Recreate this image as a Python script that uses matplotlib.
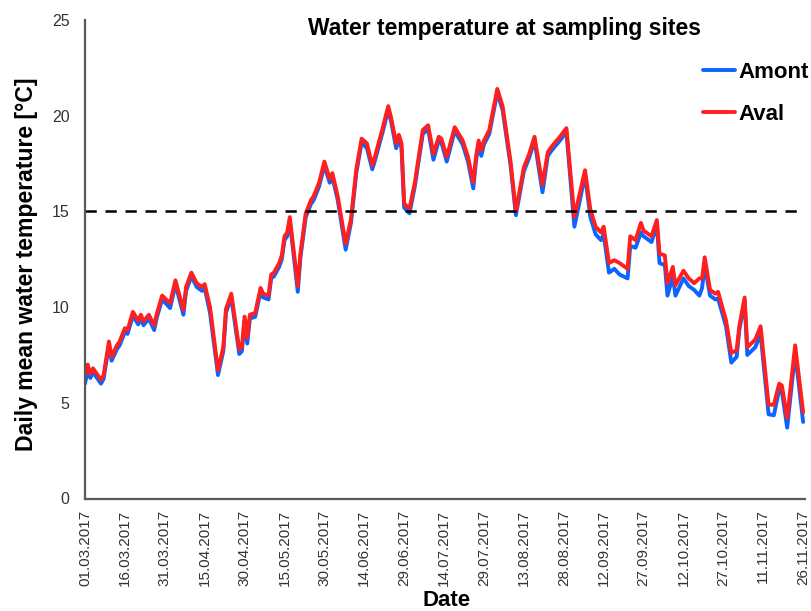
import matplotlib
matplotlib.use("Agg")
import matplotlib.pyplot as plt
import pandas as pd

plt.rcParams['font.family'] = ['Liberation Sans', 'DejaVu Sans']

start = pd.Timestamp("2017-03-01")

# day offsets from 01.03.2017 for the read-off points
days = [0, 1, 2, 3, 4, 6, 7, 9, 10, 12, 13, 15, 16, 18, 20, 21, 22, 24, 26, 27,
        29, 32, 34, 37, 38, 40, 42, 43, 44, 45, 47, 50, 52, 53, 55, 58, 59, 60, 61, 62,
        64, 66, 67, 69, 70, 71, 73, 74, 75, 76, 77, 80, 81, 83, 85, 86, 88, 90, 92, 93,
        95, 98, 100, 102, 104, 106, 108, 109, 112, 114, 115, 117, 118, 119, 120, 122, 124, 127, 129, 131,
        133, 134, 136, 139, 142, 144, 146, 147, 148, 149, 150, 152, 155, 157, 160, 162, 165, 167, 169, 172,
        174, 175, 177, 178, 181, 184, 188, 190, 192, 194, 195, 197, 199, 201, 204, 205, 207, 209, 210, 213,
        215, 216, 218, 219, 221, 222, 225, 227, 229, 231, 232, 233, 235, 237, 238, 241, 243, 245, 246, 248,
        249, 252, 254, 257, 259, 261, 262, 264, 267, 270]

aval = [6.5, 7.0, 6.5, 6.8, 6.6, 6.2, 6.45, 8.2, 7.4, 8.0, 8.2, 8.9, 8.8, 9.75, 9.3, 9.6, 9.25, 9.6, 9.05, 9.65,
        10.6, 10.2, 11.4, 9.85, 11.05, 11.8, 11.25, 11.15, 11.05, 11.2, 10.0, 6.7, 7.9, 9.9, 10.7, 7.8, 7.9, 9.5, 8.4, 9.6,
        9.7, 11.0, 10.7, 10.6, 11.7, 11.8, 12.3, 12.7, 13.7, 13.9, 14.7, 11.1, 12.8, 14.9, 15.6, 15.8, 16.5, 17.6, 16.7, 17.0,
        15.8, 13.3, 14.6, 17.2, 18.8, 18.55, 17.4, 17.85, 19.4, 20.5, 19.95, 18.55, 19.0, 18.55, 15.4, 15.15, 16.5, 19.25, 19.5, 18.0,
        18.9, 18.8, 17.85, 19.4, 18.7, 17.85, 16.5, 17.85, 18.7, 18.2, 18.7, 19.25, 21.4, 20.5, 17.6, 15.0, 17.3, 18.0, 18.9, 16.4,
        18.1, 18.3, 18.65, 18.8, 19.35, 14.7, 17.15, 15.1, 14.2, 13.9, 14.2, 12.3, 12.45, 12.3, 12.0, 13.7, 13.5, 14.4, 14.0, 13.7,
        14.55, 12.8, 12.7, 11.25, 12.1, 11.15, 11.9, 11.5, 11.25, 11.5, 11.5, 12.6, 10.9, 10.7, 10.8, 9.3, 7.6, 7.75, 9.0, 10.5,
        7.9, 8.3, 9.0, 4.9, 4.9, 6.0, 5.9, 4.2, 8.0, 4.5]

amont = [6.0, 6.7, 6.3, 6.6, 6.4, 6.0, 6.25, 8.0, 7.2, 7.8, 8.0, 8.7, 8.6, 9.55, 9.1, 9.4, 9.05, 9.4, 8.8, 9.45,
         10.4, 9.95, 11.2, 9.6, 10.85, 11.6, 11.05, 10.95, 10.85, 11.0, 9.7, 6.45, 7.7, 9.7, 10.5, 7.55, 7.7, 9.3, 8.1, 9.4,
         9.5, 10.8, 10.5, 10.4, 11.5, 11.6, 12.1, 12.5, 13.5, 13.7, 14.5, 10.8, 12.6, 14.7, 15.4, 15.6, 16.3, 17.4, 16.5, 16.8,
         15.6, 13.0, 14.4, 17.0, 18.6, 18.3, 17.2, 17.65, 19.2, 20.3, 19.75, 18.3, 18.8, 18.3, 15.2, 14.9, 16.3, 19.05, 19.3, 17.7,
         18.7, 18.6, 17.6, 19.2, 18.5, 17.6, 16.2, 17.65, 18.5, 17.9, 18.5, 19.05, 21.2, 20.3, 17.4, 14.8, 17.1, 17.8, 18.7, 16.0,
         17.9, 18.1, 18.45, 18.6, 19.15, 14.2, 16.9, 14.7, 13.8, 13.5, 13.8, 11.8, 12.0, 11.7, 11.5, 13.2, 13.1, 13.9, 13.7, 13.4,
         14.3, 12.3, 12.2, 10.6, 11.6, 10.6, 11.5, 11.1, 10.9, 10.6, 11.0, 12.2, 10.6, 10.4, 10.45, 9.0, 7.1, 7.4, 8.8, 10.3,
         7.5, 7.9, 8.6, 4.4, 4.35, 5.7, 5.6, 3.7, 7.6, 4.0]

tick_labels = ["01.03.2017", "16.03.2017", "31.03.2017", "15.04.2017", "30.04.2017", "15.05.2017",
               "30.05.2017", "14.06.2017", "29.06.2017", "14.07.2017", "29.07.2017", "13.08.2017",
               "28.08.2017", "12.09.2017", "27.09.2017", "12.10.2017", "27.10.2017", "11.11.2017",
               "26.11.2017"]
y_ticks = [0, 5, 10, 15, 20, 25]
threshold = 15

dates = start + pd.to_timedelta(days, unit="D")
tick_dates = pd.to_datetime(tick_labels, format="%d.%m.%Y")

fig = plt.figure(figsize=(8.12, 6.11), dpi=100)
ax = fig.add_axes([85/812, 1 - 498.5/611, (805-85)/812, (498.5-20)/611])

l1, = ax.plot(dates, amont, color="#0a64ff", lw=2.8, solid_joinstyle="round",
              solid_capstyle="round", label="Amont")
l2, = ax.plot(dates, aval, color="#ff1f1f", lw=2.8, solid_joinstyle="round",
              solid_capstyle="round", label="Aval")
ax.axhline(threshold, color="black", lw=1.8, ls=(0, (4.5, 3.5)))

ax.set_ylim(0, 25)
ax.set_yticks(y_ticks)
ax.set_xlim(start, start + pd.Timedelta(days=270.7))
ax.set_xticks(tick_dates)
ax.set_xticklabels(tick_labels, rotation=90)

for s in ["top", "right"]:
    ax.spines[s].set_visible(False)
for s in ["left", "bottom"]:
    ax.spines[s].set_color("#595959")
    ax.spines[s].set_linewidth(1.6)

ax.tick_params(axis="y", length=0, pad=11, labelsize=11.5, labelcolor="#333333")
ax.tick_params(axis="x", length=0, pad=8, labelsize=11, labelcolor="#333333")

fig.text(505/812, 1 - 28/611, "Water temperature at sampling sites", ha="center", va="center",
         fontsize=16.5, fontweight="bold")
fig.text(27/812, 1 - 264/611, "Daily mean water temperature [°C]", ha="center", va="center",
         rotation=90, fontsize=16.6, fontweight="bold")
fig.text(447/812, 1 - 600/611, "Date", ha="center", va="center", fontsize=16, fontweight="bold")

leg = ax.legend(handles=[l1, l2], loc="upper right", bbox_to_anchor=(812/812 - 0.004, 1 - 62/611),
                bbox_transform=fig.transFigure, frameon=False, borderpad=0, borderaxespad=0,
                handlelength=1.45, handletextpad=0.15, labelspacing=0.95,
                prop={"weight": "bold", "size": 16})

fig.savefig("out.png", dpi=100)
